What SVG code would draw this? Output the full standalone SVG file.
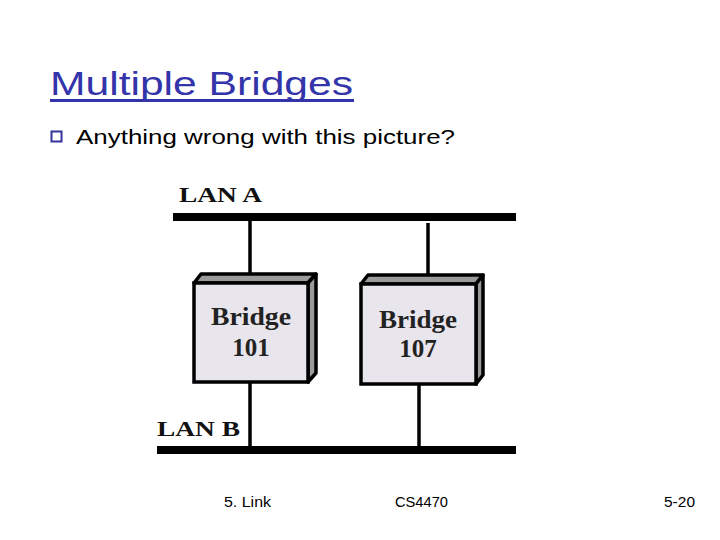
<svg xmlns="http://www.w3.org/2000/svg" width="720" height="540" viewBox="0 0 720 540">
<style>
.title{font-family:"Liberation Sans","DejaVu Sans",sans-serif;font-size:34px;fill:#3333aa}
.body{font-family:"Liberation Sans","DejaVu Sans",sans-serif;font-size:21px;fill:#000}
.lan{font-family:"Liberation Serif","DejaVu Serif",serif;font-weight:bold;font-size:22px;fill:#111}
.br{font-family:"Liberation Serif","DejaVu Serif",serif;font-weight:bold;font-size:25px;fill:#222;text-anchor:middle}
.foot{font-family:"Liberation Sans","DejaVu Sans",sans-serif;font-size:14px;fill:#000}
.front{fill:#e9e5ec;stroke:#000;stroke-width:3.5}
.side{fill:#9a9a9a;stroke:#000;stroke-width:3.5;stroke-linejoin:round}
.wire{stroke:#000;stroke-width:3.5;fill:none}
.bus{fill:#000}
</style>
<rect width="720" height="540" fill="#fff"/>
<g id="title">
<text class="title" x="50" y="95" textLength="303" lengthAdjust="spacingAndGlyphs">Multiple Bridges</text>
<rect x="50" y="99" width="304" height="3" fill="#3333aa"/>
</g>
<g id="bullet">
<rect x="51.5" y="131.5" width="10" height="10" fill="#fff" stroke="#333399" stroke-width="2"/>
<text class="body" x="76" y="144" textLength="379" lengthAdjust="spacingAndGlyphs">Anything wrong with this picture?</text>
</g>
<g id="lanA">
<text class="lan" x="179" y="202" textLength="83" lengthAdjust="spacingAndGlyphs">LAN A</text>
<rect class="bus" x="173" y="213" width="343" height="8"/>
</g>
<g id="lanB">
<text class="lan" x="157" y="436" textLength="83" lengthAdjust="spacingAndGlyphs">LAN B</text>
<rect class="bus" x="157" y="446" width="359" height="8"/>
</g>
<g id="connectors">
<line class="wire" x1="250" y1="220" x2="250" y2="283"/>
<line class="wire" x1="250" y1="382" x2="250" y2="447"/>
<line class="wire" x1="428" y1="223" x2="428" y2="284"/>
<line class="wire" x1="419" y1="384" x2="419" y2="447"/>
</g>
<g id="bridge101">
<polygon class="side" points="194,283 201,274 316,274 308,283"/>
<polygon class="side" points="308,283 316,274 316,373 308,382"/>
<rect class="front" x="194" y="283" width="114" height="99"/>
<text class="br" x="251" y="325" textLength="80" lengthAdjust="spacingAndGlyphs">Bridge</text>
<text class="br" x="251" y="356">101</text>
</g>
<g id="bridge107">
<polygon class="side" points="361,284 368,275 483,275 476,284"/>
<polygon class="side" points="476,284 483,275 483,375 476,384"/>
<rect class="front" x="361" y="284" width="115" height="100"/>
<text class="br" x="418" y="328" textLength="78" lengthAdjust="spacingAndGlyphs">Bridge</text>
<text class="br" x="418" y="357">107</text>
</g>
<g id="footer">
<text class="foot" x="224" y="507" textLength="47" lengthAdjust="spacingAndGlyphs">5. Link</text>
<text class="foot" x="395" y="507" textLength="53" lengthAdjust="spacingAndGlyphs">CS4470</text>
<text class="foot" x="664" y="507" textLength="31" lengthAdjust="spacingAndGlyphs">5-20</text>
</g>
</svg>
